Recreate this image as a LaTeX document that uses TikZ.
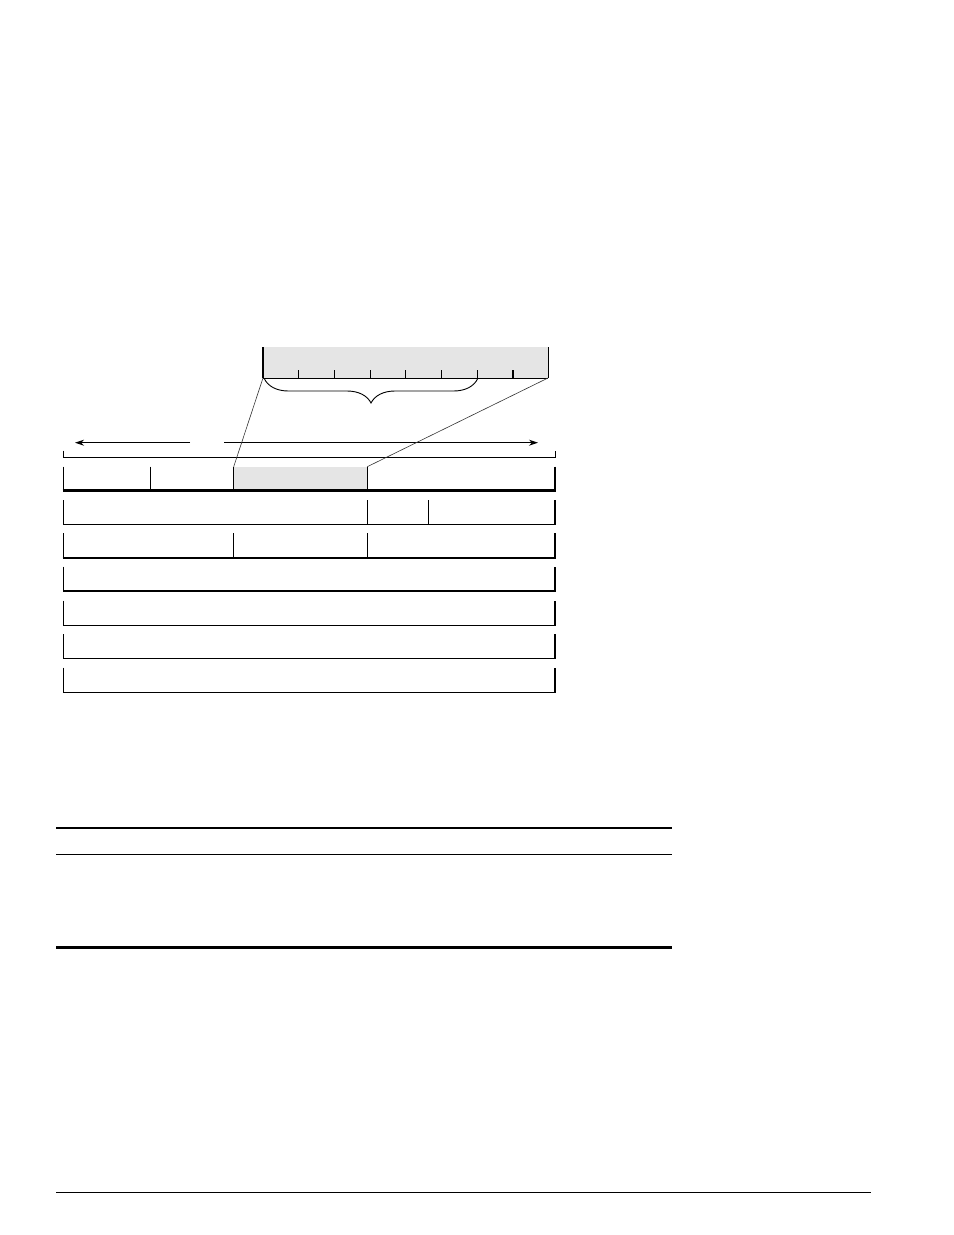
\documentclass[tikz,border=0pt]{standalone}
\usetikzlibrary{arrows.meta,decorations.pathreplacing}
\begin{document}
\begin{tikzpicture}[x=1bp,y=-1bp,
  wall/.style={line width=1.3bp},
  heavy/.style={line width=2.2bp},
  hair/.style={line width=0.9bp},
  link/.style={line width=0.6bp,black!80},
  shade/.style={fill=black!10},
  arr/.style={line width=1bp,-{Stealth[length=9bp,width=6bp]}},
  rule/.style={line width=1.3bp}]
\useasboundingbox (0,0) rectangle (954,1235);
% zoom box
\coordinate (zl) at (263,378);
\coordinate (zr) at (548,378);
\fill[shade] (263,347) rectangle (548,378);
\draw[heavy] (263,347) -- (zl);
\draw[hair] (548,347) -- (zr);
\draw[hair] (zl) -- (zr);
\foreach \x in {298.7,334.3,370,405.3,441.3,477.3}
  \draw[hair] (\x,370) -- (\x,378);
\draw[line width=1.8bp] (513,370) -- (513,378);
\draw[hair,decorate,decoration={brace,mirror,amplitude=24bp,aspect=0.5}] (264.5,379) -- (477.5,379);
% arrows and bracket
\coordinate (al) at (75,442.7);
\coordinate (ar) at (538,442.7);
\draw[arr] (190,442.7) -- (al);
\draw[arr] (224,442.7) -- (ar);
\draw[line width=1bp] (63.3,450.5) -- (63.3,457.3) -- (555,457.3) -- (555,450.5);
% row 1
\coordinate (gl) at (233.7,466.7);
\coordinate (gr) at (367.3,466.7);
\fill[shade] (gl) rectangle (367.3,490);
\draw[wall] (63.3,466.7) -- (63.3,490);
\draw[wall] (555,466.7) -- (555,490);
\draw[wall] (150.7,466.7) -- (150.7,490);
\draw[wall] (gl) -- (233.7,490);
\draw[wall] (gr) -- (367.3,490);
\draw[heavy] (62.6,490.5) -- (555.7,490.5);
% zoom lines
\draw[link] (zl) -- (gl);
\draw[link] (zr) -- (gr);
% row 2
\draw[wall] (63.3,500) -- (63.3,524.3) -- (555,524.3) -- (555,500);
\draw[wall] (367.3,500) -- (367.3,524.3);
\draw[wall] (428.3,500) -- (428.3,524.3);
% row 3
\draw[wall] (63.3,533.3) -- (63.3,557.5);
\draw[wall] (555,533.3) -- (555,557.5);
\draw[wall] (233.7,533.3) -- (233.7,557.5);
\draw[wall] (367.3,533.3) -- (367.3,557.5);
\draw[heavy] (62.6,557.7) -- (555.7,557.7);
% rows 4-7
\foreach \t/\b in {566.7/591, 600.7/625.3, 634/658.3, 667.7/692.3}
  \draw[wall] (63.3,\t) -- (63.3,\b) -- (555,\b) -- (555,\t);
% table rules
\draw[heavy] (56,828) -- (672,828);
\draw[rule] (56,854.3) -- (672,854.3);
\draw[heavy] (56,947.5) -- (672,947.5);
% footer rule
\draw[rule] (56,1192.3) -- (871,1192.3);
\end{tikzpicture}
\end{document}
